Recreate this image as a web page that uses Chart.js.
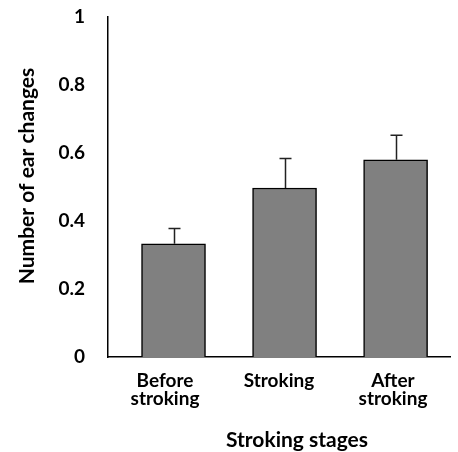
<!DOCTYPE html>
<html>
<head>
<meta charset="utf-8">
<script src="https://cdn.jsdelivr.net/npm/chart.js@4/dist/chart.umd.min.js"></script>
<style>
  html, body { margin: 0; padding: 0; background: #fff; }
  #wrap { width: 458px; height: 452px; }
</style>
</head>
<body>
<div id="wrap"><canvas id="chart"></canvas></div>
<script>
const stages = [["Before", "stroking"], "Stroking", ["After", "stroking"]];
const means = [0.333, 0.497, 0.58];
const errors = [0.045, 0.087, 0.072];
const yTicks = [0, 0.2, 0.4, 0.6, 0.8, 1];
const yTitle = "Number of ear changes";
const xTitle = "Stroking stages";

const FONT = "Lato, 'Open Sans', sans-serif";

// error bars (upper only) and the two axis titles
const extras = {
  id: "extras",
  afterDatasetsDraw(chart) {
    const ctx = chart.ctx;
    const meta = chart.getDatasetMeta(0);
    const y = chart.scales.y;
    ctx.save();
    ctx.strokeStyle = "#222";
    ctx.lineWidth = 1.5;
    meta.data.forEach((bar, i) => {
      const top = y.getPixelForValue(means[i] + errors[i]);
      const x = Math.round(bar.x) + 0.5;
      ctx.beginPath();
      ctx.moveTo(x, bar.y);
      ctx.lineTo(x, top);
      ctx.moveTo(x - 6, top);
      ctx.lineTo(x + 6, top);
      ctx.stroke();
    });
    ctx.restore();

    ctx.save();
    ctx.fillStyle = "#000";
    ctx.font = "bold 21px " + FONT;
    ctx.textAlign = "center";
    ctx.textBaseline = "middle";
    ctx.fillText(xTitle, 297, 440);
    ctx.translate(27, 176);
    ctx.rotate(-Math.PI / 2);
    ctx.fillText(yTitle, 0, 0);
    ctx.restore();
  }
};

new Chart(document.getElementById("chart"), {
  type: "bar",
  data: {
    labels: stages,
    datasets: [{
      xAxisID: "xb",
      data: means.map((v, i) => ({ x: i, y: v })),
      backgroundColor: "#808080",
      borderColor: "#000",
      borderWidth: 1.5,
      barThickness: 64
    }]
  },
  options: {
    responsive: true,
    maintainAspectRatio: false,
    animation: false,
    layout: { padding: { left: 11, right: 8, top: 17, bottom: 0 } },
    plugins: { legend: { display: false }, tooltip: { enabled: false } },
    scales: {
      // category axis: labels and baseline
      x: {
        type: "category",
        offset: true,
        grid: { display: false, drawTicks: false },
        border: { color: "#000", width: 1.5 },
        afterFit: (s) => { s.height = 95; s.paddingLeft = 0; s.paddingRight = 0; },
        ticks: {
          autoSkip: false,
          maxRotation: 0,
          padding: 15,
          color: "#000",
          font: { family: FONT, size: 19, weight: "bold", lineHeight: "18px" }
        }
      },
      // hidden linear axis that places the bars
      xb: {
        type: "linear",
        display: false,
        offset: false,
        min: -0.59,
        max: 2.49
      },
      y: {
        min: 0,
        max: 1,
        grid: { display: false, drawTicks: false },
        border: { color: "#000", width: 1.5 },
        afterBuildTicks: (s) => { s.ticks = yTicks.map(v => ({ value: v })); },
        afterFit: (s) => { s.width = 97; s.paddingTop = 0; s.paddingBottom = 0; },
        ticks: {
          padding: 23,
          color: "#000",
          font: { family: FONT, size: 19, weight: "bold" },
          callback: (v) => String(v)
        }
      }
    }
  },
  plugins: [extras]
});
</script>
</body>
</html>
